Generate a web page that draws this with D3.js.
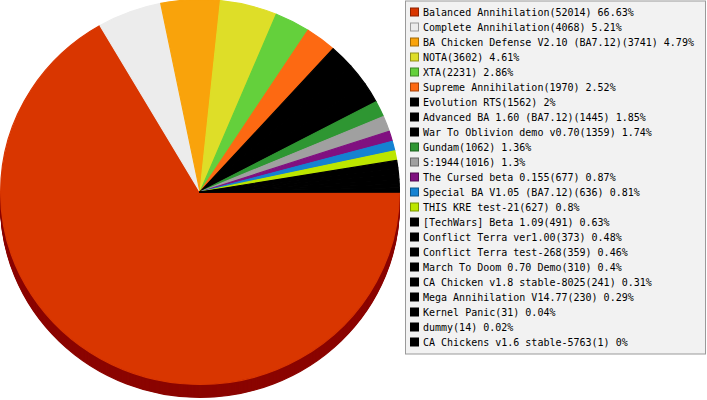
<!DOCTYPE html>
<html>
<head>
<meta charset="utf-8">
<script src="https://cdn.jsdelivr.net/npm/d3@7"></script>
<style>
  body { margin: 0; background: #fff; }
  text { font-family: "DejaVu Sans Mono", monospace; font-size: 10px; fill: #000; }
</style>
</head>
<body>
<svg id="chart" width="707" height="400"></svg>
<script>
const mods = [
  "Balanced Annihilation", "Complete Annihilation", "BA Chicken Defense V2.10 (BA7.12)",
  "NOTA", "XTA", "Supreme Annihilation", "Evolution RTS", "Advanced BA 1.60 (BA7.12)",
  "War To Oblivion demo v0.70", "Gundam", "S:1944", "The Cursed beta 0.155",
  "Special BA V1.05 (BA7.12)", "THIS KRE test-21", "[TechWars] Beta 1.09",
  "Conflict Terra ver1.00", "Conflict Terra test-268", "March To Doom 0.70 Demo",
  "CA Chicken v1.8 stable-8025", "Mega Annihilation V14.77", "Kernel Panic", "dummy",
  "CA Chickens v1.6 stable-5763"
];
const games = [52014, 4068, 3741, 3602, 2231, 1970, 1562, 1445, 1359, 1062, 1016, 677,
  636, 627, 491, 373, 359, 310, 241, 230, 31, 14, 1];
const colors = [
  "#d93600", "#ececec", "#f9a30b", "#dede28", "#64d03c", "#fd6912", "#000000", "#000000",
  "#000000", "#2e9632", "#a0a0a0", "#801080", "#1482d2", "#bce600", "#000000", "#000000",
  "#000000", "#000000", "#000000", "#000000", "#000000", "#000000", "#000000"
];

const svg = d3.select("#chart");
const cx = 200, cy = 192, rx = 200, ry = 193, depth = 13;

const data = mods.map((name, i) => ({name, value: games[i], color: colors[i]}));
const total = d3.sum(games);

const pie = d3.pie()
  .sort(null)
  .value(d => d.value)
  .startAngle(Math.PI / 2)
  .endAngle(Math.PI / 2 + 2 * Math.PI);
const arcs = pie(data);

const arc = d3.arc().innerRadius(0).outerRadius(rx - 0.6);

// extruded side: only the front half (3 o'clock to 9 o'clock) shows
const front = arcs.map(a => ({
  startAngle: Math.max(a.startAngle, Math.PI / 2),
  endAngle: Math.min(a.endAngle, 3 * Math.PI / 2),
  color: a.data.color
})).filter(a => a.endAngle > a.startAngle);

const shade = c => {
  const r = d3.rgb(c);
  return d3.rgb(r.r * 0.64, r.g * 0.1, r.b * 0.1);
};

const side = svg.append("g");
for (let d = depth; d >= 1; d--) {
  side.append("g")
    .attr("transform", `translate(${cx},${cy + d}) scale(1,${ry / rx})`)
    .selectAll("path")
    .data(front)
    .join("path")
    .attr("d", arc)
    .attr("fill", a => shade(a.color))
    .attr("stroke", a => shade(a.color))
    .attr("stroke-width", 1.2);
}

svg.append("g")
  .attr("transform", `translate(${cx},${cy}) scale(1,${ry / rx})`)
  .selectAll("path")
  .data(arcs)
  .join("path")
  .attr("d", arc)
  .attr("fill", a => a.data.color)
  .attr("stroke", a => a.data.color)
  .attr("stroke-width", 1.2)
  .attr("stroke-linejoin", "round");

// legend
const lx = 405, ly = 0.5, rowH = 15;
const legend = svg.append("g");
legend.append("rect")
  .attr("x", lx + 0.5).attr("y", ly + 0.5)
  .attr("width", 300).attr("height", 353)
  .attr("fill", "#f2f2f2")
  .attr("stroke", "#9a9a9a");

const fmt = v => +(v / total * 100).toFixed(2);

const rows = legend.selectAll("g.row")
  .data(data)
  .join("g")
  .attr("class", "row")
  .attr("transform", (d, i) => `translate(${lx + 5},${ly + 12 + i * rowH})`);

rows.append("rect")
  .attr("x", 0.5).attr("y", -4.5)
  .attr("width", 8).attr("height", 8)
  .attr("fill", d => d.color)
  .attr("stroke", d => d3.color(d.color).darker(1.2))
  .attr("stroke-width", 1);

rows.append("text")
  .attr("x", 13)
  .attr("y", 0)
  .attr("dy", "0.35em")
  .text(d => `${d.name}(${d.value}) ${fmt(d.value)}%`);
</script>
</body>
</html>
